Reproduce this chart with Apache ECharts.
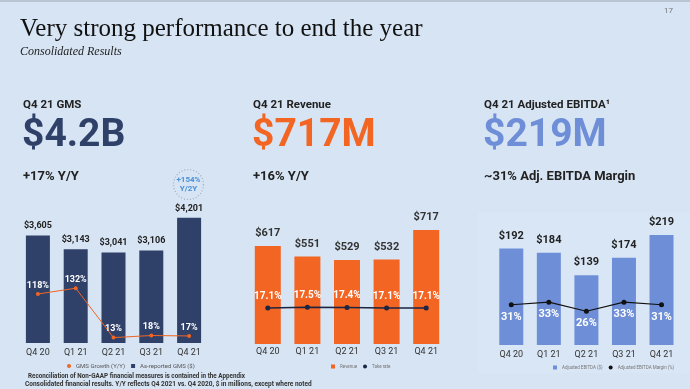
<!DOCTYPE html>
<html><head><meta charset="utf-8">
<script src="https://cdn.jsdelivr.net/npm/echarts@6/dist/echarts.min.js"></script>
<style>html,body{margin:0;padding:0;background:#d6e4f3;}#c{width:690px;height:389px;}</style>
</head><body><div id="c"></div>
<script>
var quarters = ['Q4 20','Q1 21','Q2 21','Q3 21','Q4 21'];
var gmsValues = [3605, 3143, 3041, 3106, 4201];
var gmsGrowth = [118, 132, 13, 18, 17];
var revenueValues = [617, 551, 529, 532, 717];
var takeRate = [17.1, 17.5, 17.4, 17.1, 17.1];
var ebitdaValues = [192, 184, 139, 174, 219];
var ebitdaMargin = [31, 33, 26, 33, 31];

var NAVY = '#2f4169', ORANGE = '#f26522', BLUE = '#6e8fd7';
var F = 'Roboto, "Liberation Sans", sans-serif';
var chart = echarts.init(document.getElementById('c'), null, {renderer:'canvas'});

function xAx(i, margin){
  return {type:'category', gridIndex:i, data:quarters, axisLine:{show:false}, axisTick:{show:false},
    axisLabel:{color:'#333', fontSize:9, fontFamily:F, margin:margin}};
}
function yAx(i, max){
  return {type:'value', gridIndex:i, min:0, max:max, show:false, splitLine:{show:false}};
}
function money(v){ return '$' + v.toLocaleString('en-US'); }

chart.setOption({
  animation:false,
  backgroundColor:'#d6e4f3',
  graphic:[
    {type:'rect', shape:{x:478,y:212,width:212,height:161}, style:{fill:'#d9e6f5'}, z:-10},
    {type:'rect', shape:{x:0,y:0,width:690,height:2}, style:{fill:'#b9c5d2'}},
    {type:'text', left:664, top:7, style:{text:'17', fill:'#777', font:'8px '+F}},
    {type:'text', left:20, top:17, style:{text:'Very strong performance to end the year', fill:'#111', font:'25px "Liberation Serif", serif'}},
    {type:'text', left:20, top:46, style:{text:'Consolidated Results', fill:'#222', font:'italic 12px "Liberation Serif", serif'}},
    {type:'text', left:23, top:99, style:{text:'Q4 21 GMS', fill:'#222', font:'bold 11.5px '+F}},
    {type:'text', left:253, top:99, style:{text:'Q4 21 Revenue', fill:'#222', font:'bold 11.5px '+F}},
    {type:'text', left:484, top:99, style:{text:'Q4 21 Adjusted EBITDA\u00b9', fill:'#222', font:'bold 11.5px '+F}},
    {type:'text', left:22, top:117, style:{text:'$4.2B', fill:NAVY, font:'bold 39px '+F}},
    {type:'text', left:252, top:117, style:{text:'$717M', fill:ORANGE, font:'bold 39px '+F}},
    {type:'text', left:483, top:117, style:{text:'$219M', fill:BLUE, font:'bold 39px '+F}},
    {type:'text', left:23, top:170, style:{text:'+17% Y/Y', fill:'#222', font:'bold 13px '+F}},
    {type:'text', left:253, top:170, style:{text:'+16% Y/Y', fill:'#222', font:'bold 13px '+F}},
    {type:'text', left:484, top:170, style:{text:'~31% Adj. EBITDA Margin', fill:'#222', font:'bold 13px '+F}},
    {type:'circle', shape:{cx:188.5,cy:184.5,r:15}, style:{fill:'none', stroke:'#a3afbd', lineWidth:1.2, lineDash:[1,2]}},
    {type:'text', x:188.5, y:180, style:{text:'+154%', fill:'#4a8fd8', font:'bold 8px '+F, align:'center', verticalAlign:'middle'}},
    {type:'text', x:188.5, y:189, style:{text:'Y/2Y', fill:'#4a8fd8', font:'bold 8px '+F, align:'center', verticalAlign:'middle'}},
    {type:'text', left:28, top:373, style:{text:'Reconciliation of Non-GAAP financial measures is contained in the Appendix', fill:'#333', font:'bold 6.3px '+F}},
    {type:'text', left:25, top:381, style:{text:'Consolidated financial results. Y/Y reflects Q4 2021 vs. Q4 2020, $ in millions, except where noted', fill:'#333', font:'bold 6.5px '+F}}
  ],
  grid:[
    {left:19, right:482, top:194, bottom:46},
    {left:248, right:244, top:201, bottom:45},
    {left:492.5, right:9.7, top:194.4, bottom:44}
  ],
  xAxis:[xAx(0,5), xAx(1,3), xAx(2,5)],
  yAxis:[yAx(0,5000), yAx(0,359), yAx(1,900), yAx(1,68), yAx(2,300), yAx(2,116)],
  legend:[
    {left:62, top:358, itemWidth:4, itemHeight:4, itemGap:6, textStyle:{fontSize:6, color:'#555', fontFamily:F},
     data:[{name:'GMS Growth (Y/Y)', icon:'circle'},{name:'As-reported GMS ($)', icon:'rect'}]},
    {left:326, top:359, itemWidth:4, itemHeight:4, itemGap:6, textStyle:{fontSize:4.5, color:'#777', fontFamily:F},
     data:[{name:'Revenue', icon:'rect'},{name:'Take rate', icon:'circle'}]},
    {left:548, top:360, itemWidth:4, itemHeight:4, itemGap:6, textStyle:{fontSize:4.5, color:'#777', fontFamily:F},
     data:[{name:'Adjusted EBITDA ($)', icon:'rect'},{name:'Adjusted EBITDA Margin (%)', icon:'circle'}]}
  ],
  series:[
    {name:'As-reported GMS ($)', type:'bar', xAxisIndex:0, yAxisIndex:0, data:gmsValues, barWidth:24,
     itemStyle:{color:NAVY}, label:{show:true, position:'top', distance:5, color:'#222', fontWeight:'bold', fontSize:9, fontFamily:F, formatter:function(p){return money(p.value);}}},
    {name:'GMS Growth (Y/Y)', type:'line', xAxisIndex:0, yAxisIndex:1, data:gmsGrowth, symbol:'circle', symbolSize:4,
     lineStyle:{color:ORANGE, width:1}, itemStyle:{color:ORANGE},
     label:{show:true, position:'top', distance:2, color:'#fff', fontWeight:'bold', fontSize:9, fontFamily:F, formatter:'{c}%'}},
    {name:'Revenue', type:'bar', xAxisIndex:1, yAxisIndex:2, data:revenueValues, barWidth:26,
     itemStyle:{color:ORANGE}, label:{show:true, position:'top', distance:7, color:'#333', fontWeight:'bold', fontSize:11, fontFamily:F, formatter:function(p){return money(p.value);}}},
    {name:'Take rate', type:'line', xAxisIndex:1, yAxisIndex:3, data:takeRate, symbol:'circle', symbolSize:5,
     lineStyle:{color:'#1c2541', width:1.5}, itemStyle:{color:'#1c2541'},
     label:{show:true, position:'top', distance:4, color:'#fff', fontWeight:'bold', fontSize:10, fontFamily:F, formatter:function(p){return p.value.toFixed(1)+'%';}}},
    {name:'Adjusted EBITDA ($)', type:'bar', xAxisIndex:2, yAxisIndex:4, data:ebitdaValues, barWidth:24,
     itemStyle:{color:BLUE}, label:{show:true, position:'top', distance:7, color:'#222', fontWeight:'bold', fontSize:11, fontFamily:F, formatter:function(p){return money(p.value);}}},
    {name:'Adjusted EBITDA Margin (%)', type:'line', xAxisIndex:2, yAxisIndex:5, data:ebitdaMargin, symbol:'circle', symbolSize:5,
     lineStyle:{color:'#111', width:1.2}, itemStyle:{color:'#111'},
     label:{show:true, position:'bottom', distance:4, color:'#fff', fontWeight:'bold', fontSize:11, fontFamily:F, formatter:'{c}%'}}
  ]
});
</script></body></html>
